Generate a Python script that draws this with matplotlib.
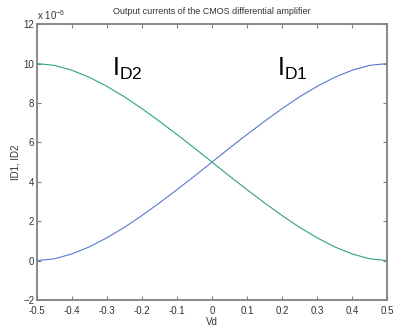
import matplotlib
matplotlib.use("Agg")
import matplotlib.pyplot as plt

# data (currents in units of 1e-6 A)
vd = [-0.5, -0.45, -0.4, -0.35, -0.3, -0.25, -0.2, -0.15, -0.1, -0.05, 0.0,
      0.05, 0.1, 0.15, 0.2, 0.25, 0.3, 0.35, 0.4, 0.45, 0.5]
id1 = [0.0, 0.09, 0.34, 0.70, 1.16, 1.69, 2.29, 2.93, 3.60, 4.29, 5.0,
       5.71, 6.40, 7.07, 7.71, 8.31, 8.84, 9.30, 9.66, 9.91, 10.0]
id2 = [10.0, 9.91, 9.66, 9.30, 8.84, 8.31, 7.71, 7.07, 6.40, 5.71, 5.0,
       4.29, 3.60, 2.93, 2.29, 1.69, 1.16, 0.70, 0.34, 0.09, 0.0]

x_ticks = [-0.5, -0.4, -0.3, -0.2, -0.1, 0, 0.1, 0.2, 0.3, 0.4, 0.5]
x_labels = ["-0.5", "-0.4", "-0.3", "-0.2", "-0.1", "0", "0.1", "0.2", "0.3", "0.4", "0.5"]
y_ticks = [-2, 0, 2, 4, 6, 8, 10, 12]

plt.rcParams["font.family"] = ["Liberation Sans", "DejaVu Sans"]
plt.rcParams["mathtext.fontset"] = "custom"
plt.rcParams["mathtext.rm"] = "Liberation Sans"
plt.rcParams["mathtext.it"] = "Liberation Sans"

text_col = "#333333"
axis_col = "#808080"

fig = plt.figure(figsize=(3.95, 3.26), dpi=100)
ax = fig.add_axes([0.0937, 0.0798, 0.886, 0.846])

ax.plot(vd, id1, color="#5a78d2", lw=0.8)  # I_D1
ax.plot(vd, id2, color="#2fa578", lw=0.8)  # I_D2

ax.set_xlim(-0.5, 0.5)
ax.set_ylim(-2, 12)
ax.set_xticks(x_ticks)
ax.set_xticklabels(x_labels)
ax.set_yticks(y_ticks)
ax.tick_params(direction="in", length=3, width=0.8, color=axis_col,
               top=True, right=True, labelsize=7, labelcolor=text_col, pad=2)
ax.tick_params(axis="x", pad=4)
for s in ax.spines.values():
    s.set_color(axis_col)
    s.set_linewidth(1.3)

ax.set_title("Output currents of the CMOS differential amplifier",
             fontsize=6.5, color=text_col, pad=7)
ax.set_xlabel("Vd", fontsize=7, color=text_col, labelpad=1)
ax.set_ylabel("ID1, ID2", fontsize=7, color=text_col, labelpad=2)
ax.text(0.0, 1.008, r"x 10$^{-6}$", transform=ax.transAxes, fontsize=7,
        color=text_col, ha="left", va="bottom")

ax.text(-0.285, 9.4, r"$\mathrm{I_{D2}}$", fontsize=18, color="black")
ax.text(0.185, 9.4, r"$\mathrm{I_{D1}}$", fontsize=18, color="black")

plt.savefig("out.png", dpi=100)
